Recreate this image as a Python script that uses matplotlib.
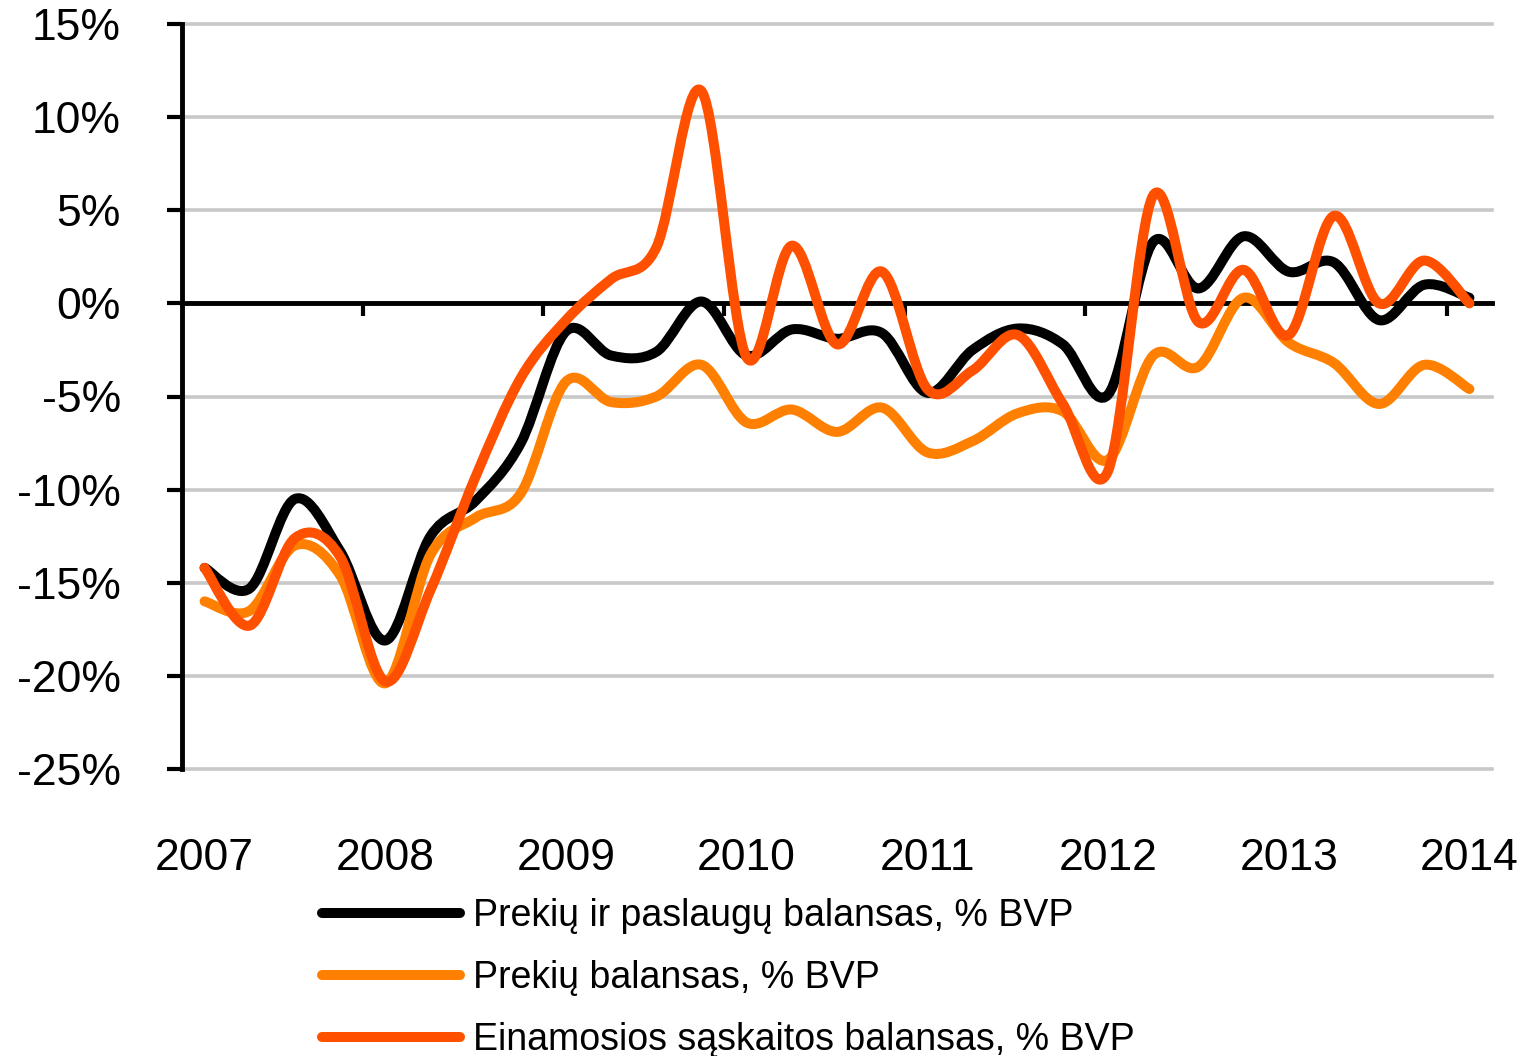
import numpy as np
import matplotlib
matplotlib.use('Agg')
import matplotlib.pyplot as plt
from matplotlib.path import Path
from matplotlib.patches import PathPatch
from matplotlib.lines import Line2D

plt.rcParams['font.family'] = ['Liberation Sans', 'DejaVu Sans']

# Ketvirtiniai duomenys 2007 I ketv. - 2014 I ketv. (% BVP)
metai = ['2007', '2008', '2009', '2010', '2011', '2012', '2013', '2014']
y_zymes = ['-25%', '-20%', '-15%', '-10%', '-5%', '0%', '5%', '10%', '15%']
y_reiksmes = [-25, -20, -15, -10, -5, 0, 5, 10, 15]

prekes_paslaugos = [-14.2, -15.3, -10.5, -13.3, -18.1, -12.5, -10.6, -7.5,
                    -1.5, -2.8, -2.6, 0.1, -2.8, -1.4, -1.9, -1.6,
                    -4.8, -2.5, -1.35, -2.2, -4.9, 3.3, 0.8, 3.6,
                    1.7, 2.2, -0.9, 1.0, 0.3]
prekes = [-16.0, -16.5, -13.0, -14.6, -20.4, -13.5, -11.5, -10.2,
          -4.2, -5.3, -5.0, -3.3, -6.4, -5.7, -6.9, -5.6,
          -8.0, -7.4, -5.9, -5.8, -8.4, -2.8, -3.4, 0.3,
          -2.1, -3.2, -5.4, -3.3, -4.6]
einamoji = [-14.2, -17.3, -12.6, -13.6, -20.3, -15.4, -9.3, -4.0,
            -0.9, 1.3, 3.0, 11.4, -2.9, 3.1, -2.2, 1.7,
            -4.6, -3.6, -1.7, -5.4, -9.0, 5.8, -1.0, 1.8,
            -1.7, 4.7, 0.0, 2.3, 0.0]

pavadinimai = ['Prekių ir paslaugų balansas, % BVP',
               'Prekių balansas, % BVP',
               'Einamosios sąskaitos balansas, % BVP']
spalvos = ['#000000', '#FF8000', '#FF5000']


def glotni_kreive(y):
    """Excel tipo glotninimas: Catmull-Rom -> kubinės Bezier kreivės."""
    pts = np.column_stack([np.arange(len(y), dtype=float), np.asarray(y, float)])
    ext = np.vstack([pts[0], pts, pts[-1]])
    verts = [pts[0]]
    codes = [Path.MOVETO]
    for i in range(len(pts) - 1):
        p0, p1, p2, p3 = ext[i], ext[i + 1], ext[i + 2], ext[i + 3]
        verts += [p1 + (p2 - p0) / 6, p2 - (p3 - p1) / 6, p2]
        codes += [Path.CURVE4] * 3
    return Path(verts, codes)


W, H = 1528, 1056
fig = plt.figure(figsize=(W / 100, H / 100), dpi=100)
ax = fig.add_axes([182 / W, 1 - 769 / H, (1492 - 182) / W, (769 - 24) / H])

for serija, spalva in zip([prekes_paslaugos, prekes, einamoji], spalvos):
    ax.add_patch(PathPatch(glotni_kreive(serija), fill=False, edgecolor=spalva,
                           lw=7.2, capstyle='round', joinstyle='round', zorder=3))

ax.set_xlim(-0.5, len(einamoji) - 0.5)
ax.set_ylim(-25, 15)
ax.set_yticks(y_reiksmes)
ax.set_yticklabels(y_zymes, fontsize=32)
ax.yaxis.grid(True, color='#C8C8C8', lw=2.6)
for g in ax.get_ygridlines():
    g.set_clip_on(False)
ax.set_axisbelow(True)
ax.tick_params(axis='y', direction='out', length=11, width=3, pad=33)

for s in ['top', 'right']:
    ax.spines[s].set_visible(False)
ax.spines['left'].set_linewidth(3.5)
ax.spines['bottom'].set_position(('data', 0))
ax.spines['bottom'].set_linewidth(3.5)

# žymos tarp metų ant nulio ašies
ax.set_xticks(np.arange(3.5, len(einamoji) - 1, 4))
ax.set_xticklabels([])
ax.tick_params(axis='x', direction='out', length=9, width=3)

# metų užrašai apačioje
sec = ax.secondary_xaxis('bottom')
sec.set_xticks(np.arange(0, len(einamoji), 4))
sec.set_xticklabels(metai, fontsize=32)
sec.tick_params(length=0, pad=50)
sec.spines['bottom'].set_visible(False)

rankenos = [Line2D([0], [0], color=c, lw=7.2, solid_capstyle='round') for c in spalvos]
fig.legend(rankenos, pavadinimai, loc='upper left',
           bbox_to_anchor=(322 / W, 1 - 898 / H), frameon=False, fontsize=27,
           handlelength=3.68, handletextpad=0.35, labelspacing=0.69,
           borderpad=0, borderaxespad=0)

fig.savefig('out.png', dpi=100)
